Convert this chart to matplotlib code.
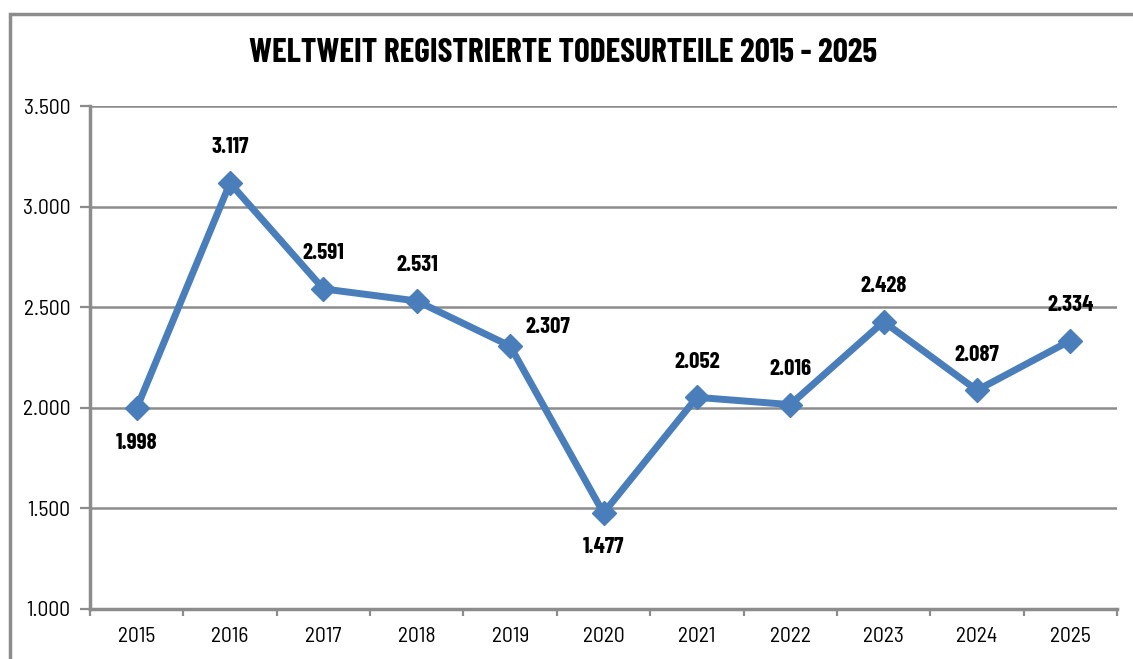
import matplotlib
matplotlib.use("Agg")
import matplotlib.pyplot as plt
from matplotlib.patches import Rectangle

years = ["2015", "2016", "2017", "2018", "2019", "2020", "2021", "2022", "2023", "2024", "2025"]
values = [1998, 3117, 2591, 2531, 2307, 1477, 2052, 2016, 2428, 2087, 2334]
# where each value label sits relative to its point
label_side = ["below", "above", "above", "above", "right", "below", "above", "above", "above", "above", "above"]

plt.rcParams["font.family"] = ["Barlow Semi Condensed", "DejaVu Sans"]
bold_font = ["Barlow Condensed", "DejaVu Sans"]

blue = "#4a7ebb"
gray = "#8c8c8c"

fig = plt.figure(figsize=(11.33, 6.59), dpi=100)
ax = fig.add_axes([90 / 1133, 50 / 659, 1027 / 1133, 503 / 659])

# outer frame (left and top only visible)
fig.patches.append(Rectangle((10 / 1133, -0.1), 1.2, 1 - 14 / 659 + 0.1,
                             transform=fig.transFigure, fill=False,
                             edgecolor=gray, linewidth=2.5))

x = list(range(len(years)))
ax.plot(x, values, color=blue, linewidth=5, marker="D", markersize=12,
        markerfacecolor=blue, markeredgecolor=blue, zorder=3)

for xi, v, side in zip(x, values, label_side):
    txt = f"{v:,}".replace(",", ".")
    if side == "above":
        ax.annotate(txt, (xi, v), xytext=(0, 18.5), textcoords="offset points",
                    ha="center", va="bottom", fontsize=16.5, fontweight="bold",
                    family=bold_font)
    elif side == "below":
        ax.annotate(txt, (xi, v), xytext=(0, -17.5), textcoords="offset points",
                    ha="center", va="top", fontsize=16.5, fontweight="bold",
                    family=bold_font)
    else:
        ax.annotate(txt, (xi, v), xytext=(27, 14), textcoords="offset points",
                    ha="center", va="center", fontsize=16.5, fontweight="bold",
                    family=bold_font)

ax.set_xlim(-0.5, len(years) - 0.5)
ax.set_ylim(1000, 3500)
ax.set_yticks([1000, 1500, 2000, 2500, 3000, 3500])
ax.set_yticklabels([f"{t:,}".replace(",", ".") for t in [1000, 1500, 2000, 2500, 3000, 3500]])
ax.set_xticks(x)
ax.set_xticklabels(years)
ax.set_xticks([i - 0.5 for i in range(len(years) + 1)], minor=True)

ax.grid(axis="y", color=gray, linewidth=1.8)
ax.set_axisbelow(True)
ax.tick_params(axis="x", which="major", length=0, labelsize=15.5, pad=13)
ax.tick_params(axis="x", which="minor", length=5, width=1.6, color=gray)
ax.tick_params(axis="y", length=7, width=1.6, color=gray, labelsize=15.5, pad=7)

for s in ["top", "right"]:
    ax.spines[s].set_visible(False)
for s in ["left", "bottom"]:
    ax.spines[s].set_color(gray)
    ax.spines[s].set_linewidth(2.5)

fig.text(563 / 1133, 1 - 53 / 659, "WELTWEIT REGISTRIERTE TODESURTEILE 2015 - 2025",
         ha="center", va="center", fontsize=24, fontweight="bold", family=bold_font)

fig.savefig("out.png", dpi=100)
